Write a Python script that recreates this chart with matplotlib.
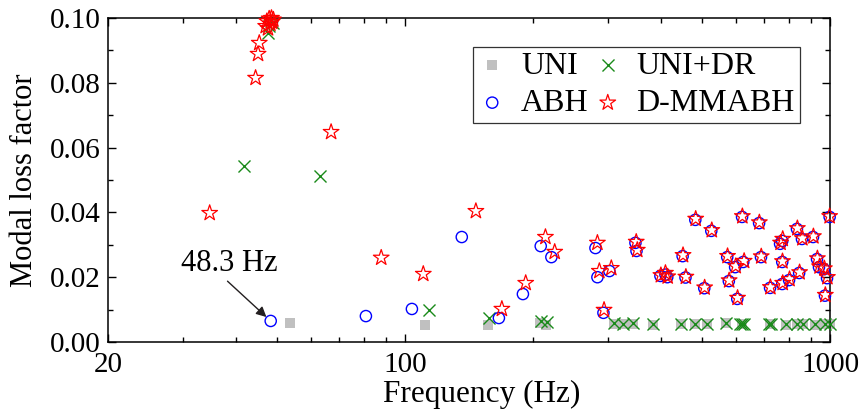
import numpy as np
import matplotlib.pyplot as plt
from matplotlib.ticker import FixedLocator, FixedFormatter, MultipleLocator, NullFormatter

plt.rcParams['font.family'] = ['Liberation Serif', 'DejaVu Serif']

# UNI (gray squares)
uni_freq = [53.7, 111.5, 156.6, 208.0, 215.0, 311, 326, 343, 384, 445, 482, 514,
            568, 621, 722, 790, 837, 866, 922, 973, 998]
uni_loss = [0.0059, 0.0052, 0.0052, 0.0059, 0.0052, 0.0057, 0.0055, 0.0056, 0.0054,
            0.0055, 0.0055, 0.0056, 0.0058, 0.0055, 0.0055, 0.0054, 0.0055, 0.0056,
            0.0054, 0.0055, 0.0055]

# UNI+DR (green crosses)
dr_freq = [41.7, 47.7, 47.9, 48.4, 48.8, 63.1, 113.8, 157.4, 208.6, 216.0,
           311, 326, 343, 384, 445, 482, 514, 568, 615, 621, 626, 718, 726,
           790, 837, 866, 922, 973, 998]
dr_loss = [0.0543, 0.0954, 0.0975, 0.0990, 0.0985, 0.0512, 0.0099, 0.0074, 0.0065, 0.0062,
           0.0058, 0.0057, 0.0058, 0.0055, 0.0055, 0.0056, 0.0057, 0.0060, 0.0056, 0.0055,
           0.0057, 0.0057, 0.0056, 0.0055, 0.0056, 0.0056, 0.0055, 0.0056, 0.0056]

# ABH (blue circles)
abh_freq = [48.3, 80.9, 103.8, 136.0, 166.3, 189.4, 208.6, 221.0, 280.6, 283.6, 293.0,
            302.6, 348.5, 350.5, 399, 410, 414, 450, 457, 482, 506, 525.6, 573, 578,
            598, 605, 621, 625, 681, 688, 722.7, 763, 772, 772, 772, 801, 836, 846,
            859, 912, 932, 942, 968, 973, 984, 998]
abh_loss = [0.0065, 0.0080, 0.0102, 0.0324, 0.0074, 0.0148, 0.0296, 0.0262, 0.0290, 0.0200,
            0.0090, 0.0219, 0.0306, 0.0281, 0.0204, 0.0208, 0.0200, 0.0265, 0.0199, 0.0377,
            0.0166, 0.0343, 0.0262, 0.0188, 0.0231, 0.0133, 0.0386, 0.0247, 0.0367, 0.0262,
            0.0167, 0.0303, 0.0312, 0.0247, 0.0179, 0.0191, 0.0349, 0.0213, 0.0318, 0.0324,
            0.0256, 0.0231, 0.0225, 0.0143, 0.0197, 0.0386]

# D-MMABH (red stars)
dm_freq = [34.7, 44.5, 45.1, 45.4, 47.0, 47.3, 47.6, 47.9, 48.2, 48.5, 48.7, 49.0,
           67.0, 87.9, 110.4, 146.8, 169.0, 192.3, 214.0, 225.0, 283.6, 286.6, 294.0,
           305.8, 350, 352, 400, 410, 415, 451, 458, 483, 507, 527, 574, 579, 600,
           606, 622, 628, 682, 689, 724, 765, 774, 773, 774, 803, 838, 848, 861, 914,
           934, 945, 970, 975, 986, 998]
dm_loss = [0.0398, 0.0815, 0.0889, 0.0923, 0.0975, 0.0990, 0.0968, 0.0998, 0.0982, 0.1000,
           0.0988, 0.0995, 0.0648, 0.0260, 0.0210, 0.0404, 0.0102, 0.0182, 0.0324, 0.0278,
           0.0306, 0.0219, 0.0099, 0.0228, 0.0309, 0.0284, 0.0206, 0.0213, 0.0202, 0.0268,
           0.0201, 0.0380, 0.0168, 0.0345, 0.0265, 0.0190, 0.0234, 0.0136, 0.0388, 0.0250,
           0.0369, 0.0264, 0.0169, 0.0306, 0.0318, 0.0249, 0.0182, 0.0194, 0.0351, 0.0215,
           0.0320, 0.0326, 0.0258, 0.0233, 0.0227, 0.0145, 0.0200, 0.0388]

x_major = [20, 100, 1000]
x_minor = [30, 40, 50, 60, 70, 80, 90, 200, 300, 400, 500, 600, 700, 800, 900]

fig = plt.figure(figsize=(8.61, 4.12), dpi=100)
ax = fig.add_axes([0.1254, 0.1699, 0.8386, 0.7864])

h_uni = ax.scatter(uni_freq, uni_loss, marker='s', s=45, color='#c0c0c0', linewidths=0,
                   label='UNI', clip_on=False, zorder=2)
h_dr = ax.scatter(dr_freq, dr_loss, marker='x', s=75, color='#1a8a1a', linewidths=1.0,
                  label='UNI+DR', clip_on=False, zorder=3)
h_abh = ax.scatter(abh_freq, abh_loss, marker='o', s=65, facecolors='none', edgecolors='#0000ff',
                   linewidths=1.0, label='ABH', clip_on=False, zorder=4)
h_dm = ax.scatter(dm_freq, dm_loss, marker='*', s=140, facecolors='none', edgecolors='#ff0000',
                  linewidths=0.9, label='D-MMABH', clip_on=False, zorder=5)

ax.annotate('48.3 Hz', xy=(47.2, 0.0077), xytext=(38.6, 0.0241),
            fontsize=22, ha='center', va='center',
            arrowprops=dict(arrowstyle='-|>', color='#231f20', lw=1.0, relpos=(0.45, 0.0),
                            mutation_scale=15, shrinkA=0, shrinkB=0))

ax.set_xscale('log')
ax.set_xlim(20, 1000)
ax.set_ylim(0, 0.1)
ax.xaxis.set_major_locator(FixedLocator(x_major))
ax.xaxis.set_major_formatter(FixedFormatter([str(v) for v in x_major]))
ax.xaxis.set_minor_locator(FixedLocator(x_minor))
ax.xaxis.set_minor_formatter(NullFormatter())
ax.yaxis.set_major_locator(MultipleLocator(0.02))
ax.yaxis.set_minor_locator(MultipleLocator(0.01))
ax.yaxis.set_major_formatter(plt.FuncFormatter(lambda v, p: '%.2f' % v))

ax.tick_params(which='both', direction='in', top=True, right=True, width=1.0)
ax.tick_params(which='major', length=6, labelsize=21)
ax.tick_params(which='minor', length=3.5)
ax.tick_params(axis='x', which='major', pad=7)
ax.tick_params(axis='y', which='major', pad=5)
for sp in ax.spines.values():
    sp.set_linewidth(1.1)

ax.set_xlabel('Frequency (Hz)', fontsize=22.5, labelpad=4)
ax.xaxis.set_label_coords(0.517, -0.118, transform=ax.transAxes)
ax.xaxis.label.set_va('top')
ax.set_ylabel('Modal loss factor', fontsize=22, labelpad=8)

# matplotlib fills legend columns first, so order handles to get UNI/UNI+DR on top row
leg = ax.legend([h_uni, h_abh, h_dr, h_dm], ['UNI', 'ABH', 'UNI+DR', 'D-MMABH'],
                ncol=2, loc='upper right', bbox_to_anchor=(0.958, 0.912), fontsize=23,
                scatterpoints=1, frameon=True, fancybox=False, edgecolor='#333333',
                framealpha=1, borderpad=0.15, handlelength=0.9, handletextpad=0.45,
                columnspacing=0.15, labelspacing=0.25, borderaxespad=0)
leg.get_frame().set_linewidth(0.9)

fig.savefig('out.png', dpi=100)
